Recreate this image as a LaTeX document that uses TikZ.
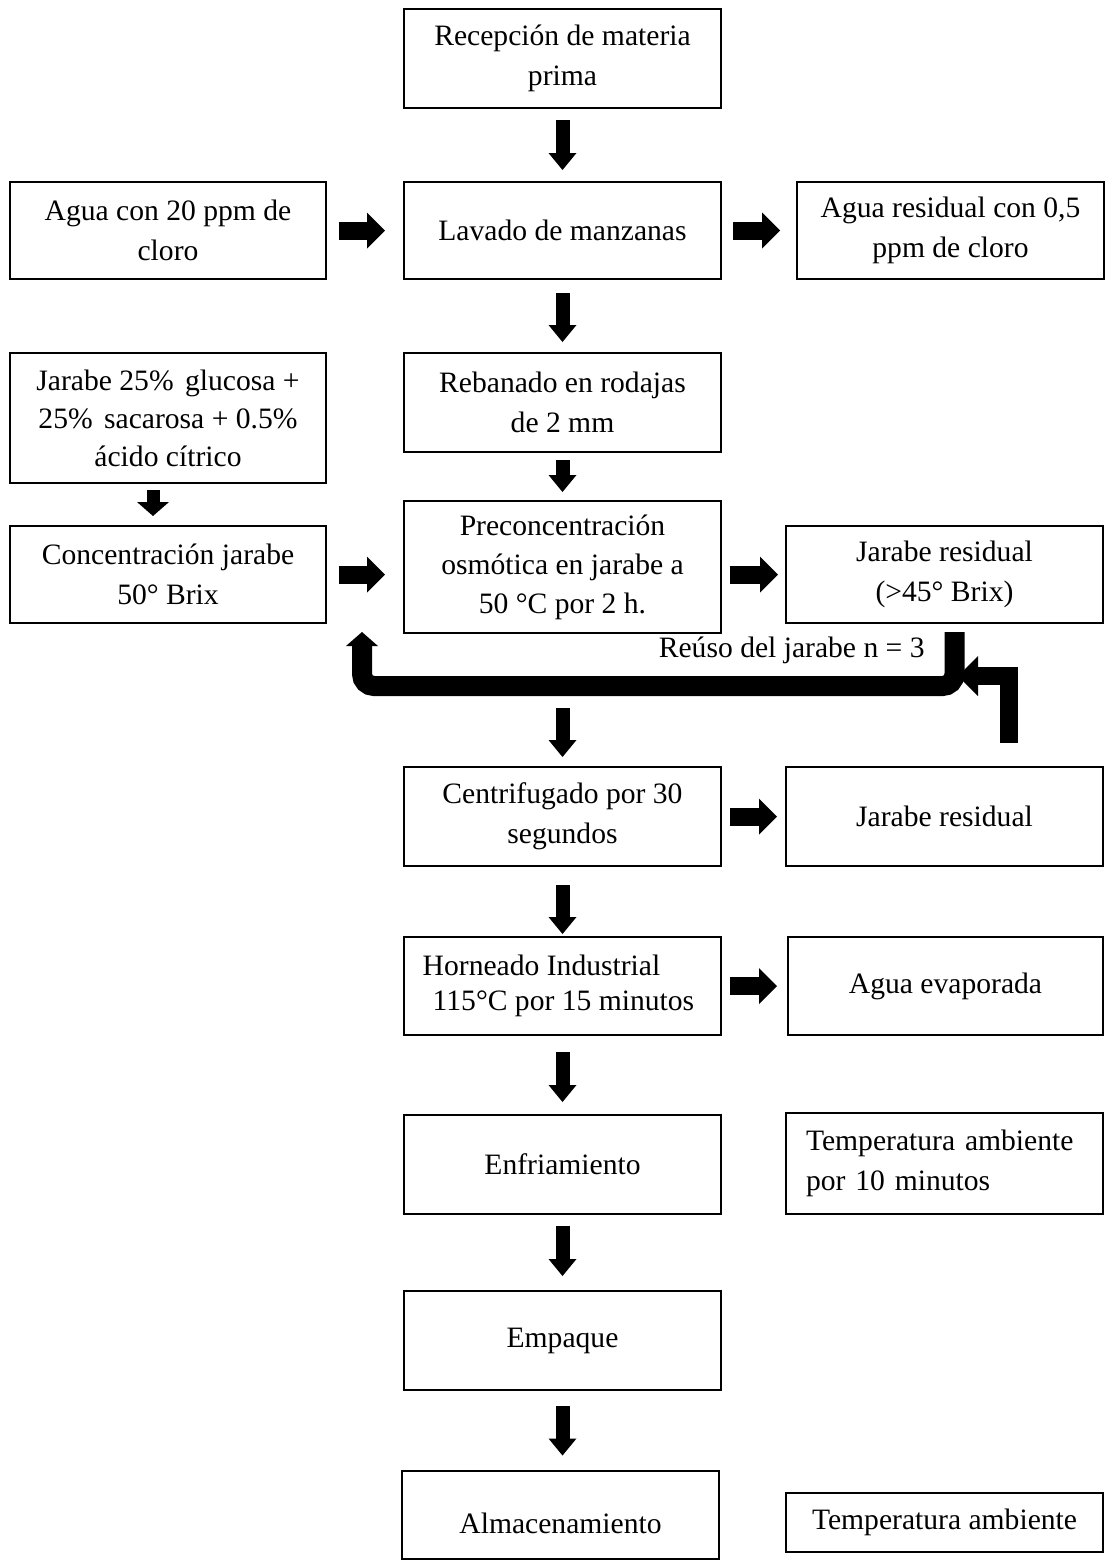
\documentclass[tikz,border=0pt]{standalone}
\usepackage{fontspec}
\setmainfont{Liberation Serif}
\usetikzlibrary{arrows.meta}
\begin{document}
\begin{tikzpicture}[x=0.5pt,y=-0.5pt,
  box/.style={draw, line width=1pt, inner sep=0pt, align=center,
    font=\fontsize{14.8}{20}\selectfont},
  sz/.style 2 args={minimum width=#1*0.5pt, minimum height=#2*0.5pt},
  varr/.style={line width=7pt, -{Triangle[width=14pt,length=8.5pt,line width=0pt]}},
  harr/.style={line width=9pt, -{Triangle[width=18pt,length=9pt,line width=0pt]}},
  lbl/.style={inner sep=0pt, font=\fontsize{14.8}{20}\selectfont}]
\useasboundingbox (0,0) rectangle (1105,1564);

% boxes
\node[box, sz={317}{99}]  (rec)     at (562.5,58.5)  {Recepción de materia\\prima};
\node[box, sz={316}{97}]  (agua20)  at (168,230.5)   {Agua con 20 ppm de\\cloro};
\node[box, sz={317}{97}]  (lav)     at (562.5,230.5) {Lavado de manzanas};
\node[box, sz={307}{97}]  (aguares) at (950.5,230.5) {Agua residual con 0,5\\ppm de cloro};
\node[box, sz={316}{130}, font=\fontsize{14.8}{19}\selectfont] (jar25) at (168,418)
  {Jarabe 25\%\hspace{2pt} glucosa +\\25\%\hspace{2pt} sacarosa + 0.5\%\\ácido cítrico};
\node[box, sz={317}{99}]  (reb)     at (562.5,402.5) {Rebanado en rodajas\\de 2 mm};
\node[box, sz={316}{97}]  (conc)    at (168,574.5)   {Concentración jarabe\\50° Brix};
\node[box, sz={317}{132}, font=\fontsize{14.8}{19.5}\selectfont] (pre) at (562.5,567)
  {Preconcentración\\osmótica en jarabe a\\50 °C por 2 h.};
\node[box, sz={317}{97}]  (jres1)   at (944.5,574.5) {Jarabe residual\\(>45° Brix)};
\node[box, sz={317}{99}]  (cen)     at (562.5,816.5) {Centrifugado por 30\\segundos};
\node[box, sz={317}{99}]  (jres2)   at (944.5,816.5) {Jarabe residual};
\node[box, sz={317}{98}, align=left, font=\fontsize{14.8}{17.5}\selectfont] (hor) at (562.5,986)
  {\hspace*{-4pt}Horneado Industrial\\\hspace*{1pt}115°C por 15 minutos};
\node[box, sz={315}{98}]  (agev)    at (945.5,986)   {Agua evaporada};
\node[box, sz={317}{99}]  (enf)     at (562.5,1164.5) {Enfriamiento};
\node[box, sz={317}{101}, text width=138.5pt, align=left] (temp10) at (944.5,1163.5)
  {Temperatura ambiente\\por 10 minutos};
\node[box, sz={317}{99}]  (emp)     at (562.5,1340.5) {Empaque};
\node[box, sz={317}{88}, text height=19pt, text depth=0pt]  (alm) at (560.5,1514.5) {Almacenamiento};
\node[box, sz={317}{59}]  (temp)    at (944.5,1522.5) {Temperatura ambiente};

% vertical arrows
\draw[varr, shorten <=5.5pt, shorten >=5.5pt] (rec) -- (lav);
\draw[varr, shorten <=6.5pt, shorten >=5pt] (lav) -- (reb);
\draw[varr, shorten <=3.5pt, shorten >=4pt] (reb) -- (pre);
\draw[line width=6.5pt, -{Triangle[width=16pt,length=7pt,line width=0pt]},
      shorten <=3pt, shorten >=4.5pt] ([xshift=-7.5pt]jar25.south) -- ([xshift=-7.5pt]conc.north);
\draw[varr, shorten <=37pt, shorten >=4.5pt] (pre) -- (cen);
\draw[varr, shorten <=9pt, shorten >=1pt] (cen) -- (hor);
\draw[varr, shorten <=8pt, shorten >=6pt] (hor) -- (enf);
\draw[varr, shorten <=5.5pt, shorten >=7pt] (enf) -- (emp);
\draw[varr, shorten <=7.5pt, shorten >=7pt] (emp.south) -- (emp.south |- alm.north);

% horizontal arrows
\draw[harr, shorten <=6pt, shorten >=9pt] (agua20) -- (lav);
\draw[harr, shorten <=5.5pt, shorten >=8pt] (lav) -- (aguares);
\draw[harr, shorten <=6pt, shorten >=9pt] (conc.east) -- (conc.east -| pre.west);
\draw[harr, shorten <=4pt, shorten >=3.5pt] (pre.east |- jres1.west) -- (jres1.west);
\draw[harr, shorten <=4pt, shorten >=4pt] (cen) -- (jres2);
\draw[harr, shorten <=4pt, shorten >=5pt] (hor) -- (agev);

% recycle loop
\coordinate (loopR) at (954.5,632);
\coordinate (loopL) at (362,632);
\coordinate (retin) at (1009,743);
\coordinate (retout) at (958,676);
\draw[line width=10pt, rounded corners=6pt,
      -{Triangle[width=16pt,length=7pt,line width=0pt]}]
  (loopR) -- (954.5,686) -- (362,686) -- (loopL);
\draw[line width=9pt, -{Triangle[width=20pt,length=10pt,line width=0pt]}]
  (retin) |- (retout);
\node[lbl, anchor=east] (reuso) at (925,650) {Reúso del jarabe n = 3};
\end{tikzpicture}
\end{document}
